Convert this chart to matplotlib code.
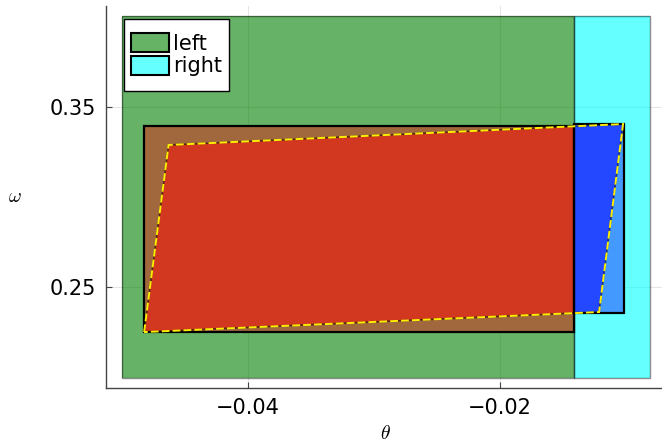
import matplotlib
matplotlib.use("Agg")
import matplotlib.pyplot as plt
from matplotlib.patches import Rectangle, Polygon, Patch
from matplotlib.legend_handler import HandlerPatch

plt.rcParams["mathtext.fontset"] = "cm"

# Regions in (theta, omega)
region_labels = ["left", "right"]
region_theta = [(-0.0500, -0.0141), (-0.0141, -0.0081)]
region_omega = (0.200, 0.400)
region_colors = ["#008000", "#00ffff"]

# Bounding boxes of the mapped set on each side of the split
box_theta = [(-0.04823, -0.0141), (-0.0141, -0.01014)]
box_omega = [(0.2250, 0.3395), (0.2360, 0.3404)]
box_colors = ["#a0683c", "#4499ff"]

# Mapped set (parallelogram) and the colours of its two pieces
set_theta = [-0.04823, -0.04629, -0.01022, -0.01212]
set_omega = [0.2252, 0.3288, 0.3404, 0.2363]
piece_colors = ["#d1381f", "#2348ff"]

x_ticks = [-0.04, -0.02]
y_ticks = [0.25, 0.35]

W, H, DPI = 662, 442, 100
fig = plt.figure(figsize=(W / DPI, H / DPI), dpi=DPI)
ax = fig.add_axes([106 / W, (H - 388.4) / H, 559.6 / W, 382.8 / H])

# Axis limits with a 3% margin around the regions
xlo, xhi = region_theta[0][0], region_theta[-1][1]
ylo, yhi = region_omega
px, py = 0.03 * (xhi - xlo), 0.03 * (yhi - ylo)
ax.set_xlim(xlo - px, xhi + px)
ax.set_ylim(ylo - py, yhi + py)

ax.set_axisbelow(True)
ax.grid(True, color="black", alpha=0.1, lw=0.8)

region_patches = []
for (t0, t1), c in zip(region_theta, region_colors):
    r = Rectangle((t0, ylo), t1 - t0, yhi - ylo, facecolor=c, alpha=0.6,
                  edgecolor="none", zorder=1)
    ax.add_patch(r)
    ax.add_patch(Rectangle((t0, ylo), t1 - t0, yhi - ylo, facecolor="none",
                           edgecolor="black", alpha=0.45, lw=1.0, zorder=1.1))
    region_patches.append(r)

for (t0, t1), (o0, o1), c in zip(box_theta, box_omega, box_colors):
    ax.add_patch(Rectangle((t0, o0), t1 - t0, o1 - o0, facecolor=c,
                           edgecolor="none", zorder=2))

verts = list(zip(set_theta, set_omega))
for clip, c in zip(region_patches, piece_colors):
    p = Polygon(verts, closed=True, facecolor=c, edgecolor="none", zorder=3)
    ax.add_patch(p)
    p.set_clip_path(clip)

for (t0, t1), (o0, o1) in zip(box_theta, box_omega):
    ax.add_patch(Rectangle((t0, o0), t1 - t0, o1 - o0, facecolor="none",
                           edgecolor="black", lw=1.6, zorder=4))

ax.add_patch(Polygon(verts, closed=True, facecolor="none", edgecolor="black",
                     alpha=0.5, lw=1.2, zorder=5))
ax.add_patch(Polygon(verts, closed=True, facecolor="none", edgecolor="#ffee00",
                     lw=1.4, linestyle=(0, (4, 1.6)), zorder=6))

ax.set_xticks(x_ticks)
ax.set_yticks(y_ticks)
ax.set_xticklabels(["\u22120.04", "\u22120.02"])
ax.set_yticklabels(["0.25", "0.35"])
ax.tick_params(direction="in", length=4, width=0.8, color="#444444",
               labelsize=15, pad=7)
for s in ["top", "right"]:
    ax.spines[s].set_visible(False)
for s in ["left", "bottom"]:
    ax.spines[s].set_color("#444444")
    ax.spines[s].set_linewidth(1.0)

ax.set_xlabel(r"$\theta$", fontsize=14, labelpad=4)
ax.set_ylabel(r"$\omega$", fontsize=14, labelpad=25, rotation=0, va="center")


def swatch(legend, orig_handle, xdescent, ydescent, width, height, fontsize):
    # Legend swatch, shorter than its row
    h = 0.9 * fontsize
    return Rectangle((-xdescent, -ydescent + (height - h) / 2), width, h)


handles = [Patch(facecolor=c, edgecolor="black", lw=1.5, label=l)
           for c, l in zip(["#66b366", "#66ffff"], region_labels)]
leg = ax.legend(handles=handles, loc="upper left",
                bbox_to_anchor=(0.032, (388.4 - 25.6) / 382.8),
                borderaxespad=0, fontsize=15, handlelength=1.82,
                handleheight=1.15, handletextpad=0.19, borderpad=0.33,
                labelspacing=0.05, frameon=False,
                handler_map={Patch: HandlerPatch(patch_func=swatch)})
leg.set_zorder(10)

# Legend box with extra room above and below the entries
fig.canvas.draw()
bb = leg.get_window_extent().transformed(ax.transAxes.inverted())
pad_top, pad_bot = 6.6 / 382.8, 7.6 / 382.8
ax.add_patch(Rectangle((bb.x0, bb.y0 - pad_bot), bb.width,
                       bb.height + pad_top + pad_bot, transform=ax.transAxes,
                       facecolor="white", edgecolor="black", lw=1.0,
                       zorder=9.5))

fig.savefig("out.png", dpi=DPI)
